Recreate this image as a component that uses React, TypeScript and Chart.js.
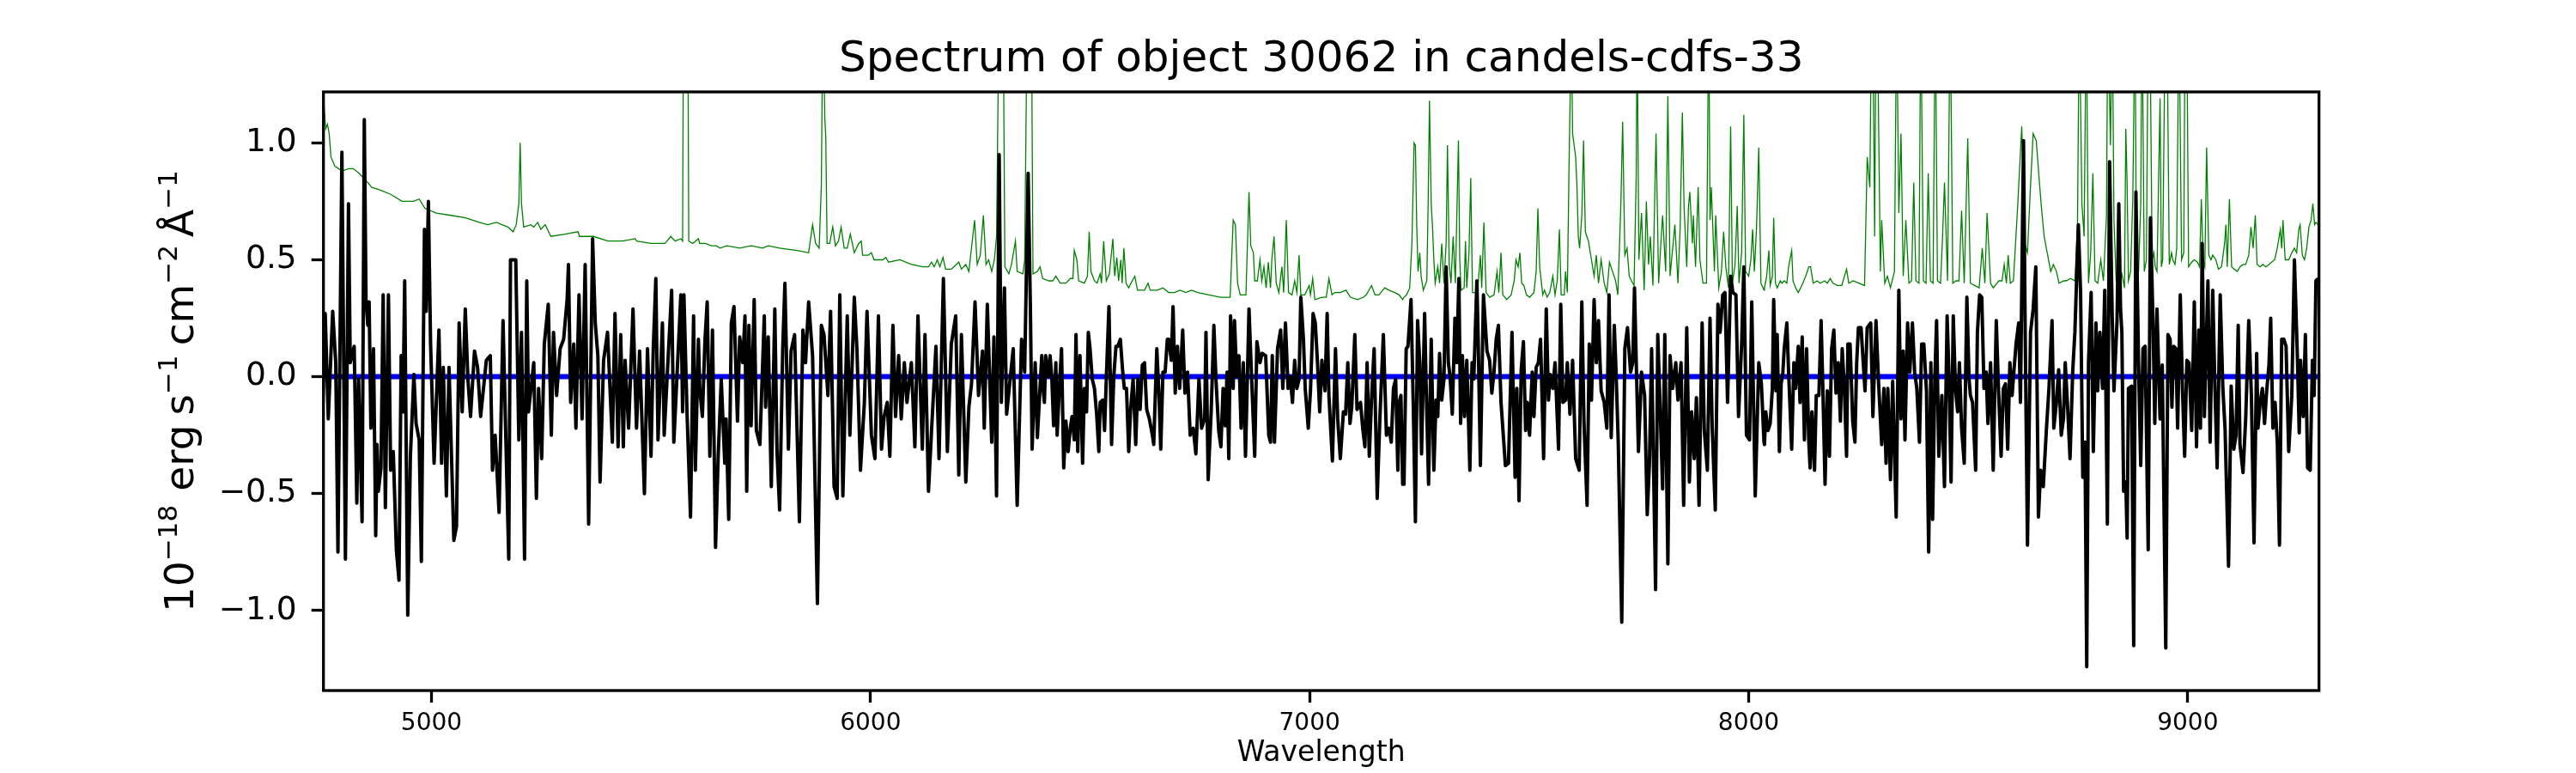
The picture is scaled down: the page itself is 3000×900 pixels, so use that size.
import { useEffect, useRef } from "react";
import { Chart, registerables } from "chart.js";

Chart.register(...registerables);

type Pt = [number, number];

// object flux, [wavelength, 1e-18 erg/s/cm2/A]
const flux4750to5570: Pt[] = [
  [4750, -0.3], [4758, 0.27], [4765, -0.18], [4775, 0.28], [4782, 0.06], [4787, -0.75], [4796, 0.96], [4804, -0.78],
  [4811, 0.74], [4815, 0.06], [4824, 0.13], [4830, -0.54], [4834, -0.01], [4842, -0.62], [4847, 1.1], [4851, 0.32],
  [4855, 0.22], [4858, 0.32], [4862, -0.22], [4868, 0.12], [4873, -0.68], [4876, -0.29], [4879, -0.49], [4885, -0.39],
  [4890, 0.35], [4895, -0.56], [4902, 0.35], [4907, -0.4], [4913, -0.32], [4920, -0.74], [4926, -0.87], [4931, 0.09],
  [4935, -0.15], [4939, 0.41], [4946, -1.02], [4952, -0.34], [4960, 0.01], [4965, -0.2], [4972, -0.27], [4977, -0.79],
  [4984, 0.63], [4988, 0.28], [4993, 0.75], [4998, 0.14], [5006, -0.37], [5017, 0.2], [5023, -0.37], [5027, 0.04],
  [5034, -0.51], [5040, 0.04], [5051, -0.7], [5057, -0.64], [5063, 0.23], [5070, -0.15], [5077, 0.29], [5083, -0.01],
  [5089, -0.17], [5098, 0.11], [5105, 0.04], [5112, -0.17], [5125, 0.07], [5134, 0.09], [5139, -0.4], [5145, -0.25],
  [5154, -0.58], [5163, 0.24], [5176, -0.78], [5180, 0.5], [5192, 0.5], [5199, -0.27], [5205, 0.19], [5212, -0.78],
  [5217, 0.41], [5221, -0.15], [5233, 0.06], [5239, -0.52], [5244, -0.05], [5251, -0.35], [5257, 0.14], [5266, 0.31],
  [5273, -0.25], [5278, 0.19], [5285, -0.08], [5293, 0.12], [5301, 0.16], [5309, 0.33], [5312, 0.48], [5317, -0.11],
  [5324, 0.14], [5329, -0.22], [5336, 0.35], [5343, -0.18], [5350, 0.48], [5358, -0.63], [5367, 0.59], [5373, 0.23],
  [5379, 0.09], [5384, -0.45], [5392, 0.07], [5401, 0.19], [5412, -0.28], [5418, 0.27], [5425, -0.3], [5431, 0.18],
  [5437, -0.3], [5441, 0.07], [5449, -0.22], [5459, 0.29], [5467, -0.22], [5474, 0.11], [5485, -0.5], [5492, 0.12],
  [5500, -0.34], [5505, 0.11], [5511, 0.42], [5516, -0.27], [5526, 0.23], [5530, -0.25], [5547, 0.37], [5552, -0.28],
  [5568, 0.35],
];

const flux5570to6390: Pt[] = [
  [5572, -0.15], [5575, 0.35], [5582, -0.15], [5590, -0.6], [5597, 0.26], [5601, -0.4], [5608, 0.16], [5611, -0.05],
  [5617, -0.17], [5623, 0.16], [5628, 0.32], [5634, -0.34], [5640, 0.2], [5647, -0.73], [5653, -0.34], [5660, -0.01],
  [5668, -0.37], [5671, -0.18], [5677, -0.61], [5683, 0.23], [5689, 0.3], [5697, -0.19], [5702, 0.17], [5709, 0.06],
  [5714, 0.26], [5718, -0.49], [5723, 0.22], [5728, -0.21], [5735, 0.33], [5740, -0.23], [5748, -0.29], [5758, 0.26],
  [5761, -0.13], [5767, 0.17], [5774, -0.47], [5782, 0.29], [5787, -0.32], [5793, -0.57], [5800, 0.12], [5805, 0.4],
  [5813, -0.31], [5819, 0.11], [5827, 0.18], [5838, -0.62], [5846, 0.2], [5852, 0.06], [5859, 0.32], [5868, 0.09],
  [5879, -0.97], [5888, 0.22], [5894, 0.18], [5903, -0.08], [5909, 0.28], [5917, -0.47], [5924, -0.52], [5930, 0.35],
  [5937, -0.51], [5947, 0.26], [5953, -0.25], [5963, 0.34], [5969, 0.12], [5977, -0.4], [5986, -0.11], [5992, 0.28],
  [6002, -0.25], [6010, -0.35], [6018, 0.26], [6025, -0.31], [6031, -0.17], [6038, -0.11], [6044, -0.34], [6051, 0.22],
  [6057, -0.17], [6064, 0.09], [6070, -0.18], [6077, 0.06], [6083, -0.11], [6093, 0.06], [6101, -0.3], [6108, 0.26],
  [6118, -0.31], [6124, 0.18], [6132, -0.49], [6139, -0.23], [6149, 0.13], [6156, -0.35], [6166, 0.42], [6175, -0.32],
  [6184, 0.14], [6194, 0.26], [6201, -0.42], [6207, 0.18], [6217, -0.45], [6224, -0.13], [6230, -0.03], [6238, 0.32],
  [6246, -0.08], [6255, 0.11], [6259, -0.22], [6266, 0.31], [6276, -0.28], [6281, 0.17], [6287, -0.51], [6293, 0.95],
  [6298, -0.11], [6305, 0.38], [6310, -0.16], [6318, -0.01], [6325, 0.12], [6334, -0.55], [6344, 0.16], [6351, 0.02],
  [6359, 0.87], [6364, 0.31], [6368, -0.31], [6375, 0.06], [6380, -0.26], [6390, 0.09],
];

const flux6390to7215: Pt[] = [
  [6393, -0.05], [6396, -0.11], [6399, 0.09], [6404, 0.0], [6409, 0.09], [6413, -0.01], [6417, -0.21], [6422, 0.06],
  [6425, -0.25], [6430, -0.05], [6435, 0.12], [6440, -0.39], [6445, -0.19], [6450, -0.32], [6455, -0.22], [6459, -0.17],
  [6464, -0.27], [6468, 0.18], [6472, -0.32], [6477, 0.09], [6483, -0.37], [6487, -0.05], [6492, -0.15], [6496, 0.19],
  [6500, 0.12], [6505, -0.01], [6510, -0.05], [6515, -0.16], [6520, -0.32], [6523, -0.11], [6529, -0.1], [6533, -0.23],
  [6537, -0.01], [6543, 0.3], [6549, -0.29], [6554, 0.0], [6559, 0.13], [6563, 0.13], [6569, 0.16], [6574, 0.03],
  [6578, -0.05], [6583, -0.05], [6588, -0.32], [6592, -0.15], [6598, -0.01], [6604, -0.29], [6609, -0.01], [6614, -0.14],
  [6619, 0.05], [6624, 0.06], [6629, -0.14], [6635, -0.18], [6642, -0.25], [6645, -0.29], [6652, 0.12], [6657, -0.08],
  [6661, -0.31], [6666, 0.02], [6671, 0.02], [6676, 0.16], [6679, 0.16], [6685, 0.07], [6689, 0.3], [6694, -0.07],
  [6699, 0.13], [6704, -0.05], [6711, 0.2], [6716, -0.07], [6722, 0.02], [6728, -0.25], [6735, -0.22], [6741, -0.33],
  [6748, -0.01], [6754, -0.22], [6761, -0.18], [6764, 0.19], [6769, -0.44], [6776, -0.14], [6782, 0.22], [6787, -0.02],
  [6793, -0.23], [6798, -0.3], [6803, -0.05], [6808, -0.21], [6812, 0.02], [6816, -0.35], [6820, 0.26], [6826, -0.05],
  [6829, 0.24], [6834, 0.0], [6839, 0.09], [6844, -0.22], [6849, 0.06], [6854, -0.34], [6862, 0.29], [6868, -0.01],
  [6875, -0.34], [6880, 0.15], [6887, 0.06], [6892, 0.1], [6900, 0.09], [6907, -0.25], [6911, -0.28], [6915, 0.09],
  [6920, -0.28], [6927, 0.12], [6934, 0.2], [6939, -0.05], [6945, 0.23], [6951, -0.05], [6956, 0.0], [6961, -0.11],
  [6966, 0.07], [6971, -0.05], [6976, -0.01], [6980, 0.34], [6986, 0.16], [6990, -0.05], [6997, -0.22], [7002, -0.06],
  [7008, 0.27], [7013, 0.23], [7018, 0.06], [7023, -0.15], [7028, 0.07], [7035, -0.06], [7040, 0.27], [7044, -0.08],
  [7052, -0.36], [7059, 0.12], [7064, -0.18], [7070, -0.35], [7077, -0.15], [7082, -0.16], [7087, 0.06], [7092, -0.2],
  [7096, -0.13], [7103, 0.18], [7108, -0.14], [7116, -0.11], [7121, -0.22], [7126, -0.3], [7131, 0.06], [7136, -0.34],
  [7141, -0.1], [7147, 0.12], [7154, -0.52], [7160, -0.18], [7168, 0.18], [7175, -0.25], [7181, -0.22], [7186, -0.28],
  [7191, -0.05], [7196, -0.01], [7201, -0.4], [7204, -0.11], [7208, -0.08], [7212, -0.46],
];

const flux7215to8035: Pt[] = [
  [7215, -0.46], [7220, 0.12], [7224, 0.13], [7231, 0.33], [7236, -0.11], [7241, -0.62], [7246, 0.24], [7251, 0.06],
  [7255, -0.33], [7262, 0.27], [7266, -0.08], [7271, -0.46], [7277, 0.16], [7283, -0.4], [7288, -0.1], [7292, -0.17],
  [7296, 0.1], [7301, -0.1], [7306, -0.01], [7311, 0.47], [7316, 0.06], [7320, 0.0], [7325, -0.16], [7331, 0.25],
  [7335, 0.06], [7340, 0.42], [7344, -0.2], [7348, 0.09], [7353, -0.17], [7358, 0.07], [7365, -0.4], [7370, 0.06],
  [7374, -0.01], [7381, 0.41], [7384, 0.16], [7389, -0.38], [7396, 0.35], [7404, 0.11], [7410, 0.07], [7415, -0.07],
  [7420, 0.02], [7425, 0.16], [7430, 0.22], [7436, -0.11], [7446, -0.38], [7453, -0.37], [7461, 0.19], [7468, -0.43],
  [7472, -0.05], [7477, -0.53], [7482, 0.03], [7487, 0.15], [7492, -0.23], [7496, -0.11], [7501, -0.25], [7507, 0.02],
  [7511, -0.17], [7516, 0.04], [7521, 0.06], [7526, 0.16], [7533, -0.35], [7539, 0.29], [7544, -0.1], [7548, 0.01],
  [7554, -0.05], [7559, 0.06], [7567, -0.31], [7572, 0.31], [7577, -0.11], [7583, -0.1], [7587, 0.06], [7593, -0.16],
  [7599, 0.07], [7606, -0.35], [7614, -0.4], [7620, 0.32], [7625, -0.2], [7632, -0.55], [7637, 0.14], [7642, -0.1],
  [7648, 0.33], [7653, 0.06], [7658, 0.24], [7664, -0.06], [7671, -0.11], [7677, -0.22], [7682, 0.35], [7687, -0.26],
  [7694, 0.22], [7698, 0.02], [7703, -0.28], [7711, -1.05], [7718, 0.12], [7724, 0.21], [7731, 0.02], [7736, 0.06],
  [7740, 0.38], [7744, 0.06], [7749, -0.32], [7756, 0.02], [7763, -0.08], [7769, -0.59], [7774, -0.37], [7779, 0.12],
  [7788, -0.91], [7793, 0.18], [7798, -0.11], [7804, -0.48], [7809, 0.18], [7816, -0.8], [7821, 0.09], [7827, -0.05],
  [7834, 0.06], [7839, -0.1], [7846, 0.06], [7852, -0.55], [7859, 0.21], [7865, -0.45], [7870, -0.15], [7876, -0.35],
  [7881, -0.09], [7887, -0.55], [7894, 0.23], [7899, -0.23], [7906, -0.4], [7912, 0.25], [7917, -0.22], [7924, -0.57],
  [7930, 0.31], [7935, 0.19], [7941, 0.35], [7946, 0.36], [7952, -0.11], [7959, 0.43], [7964, 0.36], [7971, 0.35],
  [7977, -0.17], [7984, 0.14], [7989, 0.47], [7995, -0.25], [8002, -0.27], [8007, 0.32], [8015, -0.51], [8023, 0.06],
  [8029, -0.03], [8035, -0.28],
];

const flux8035to8855: Pt[] = [
  [8036, -0.29], [8039, -0.15], [8044, -0.23], [8049, -0.2], [8054, -0.05], [8057, 0.33], [8062, -0.06], [8065, 0.18],
  [8070, -0.32], [8074, -0.03], [8078, 0.02], [8081, 0.12], [8087, 0.23], [8091, 0.02], [8098, -0.31], [8103, 0.06],
  [8107, -0.05], [8113, 0.13], [8117, -0.11], [8122, 0.17], [8127, -0.27], [8132, 0.12], [8137, -0.28], [8140, -0.39],
  [8144, -0.15], [8150, -0.4], [8154, -0.08], [8160, -0.08], [8165, 0.24], [8169, -0.05], [8174, -0.46], [8179, -0.06],
  [8184, -0.34], [8189, 0.12], [8194, 0.2], [8199, -0.07], [8204, 0.06], [8209, -0.19], [8213, 0.12], [8218, -0.05],
  [8223, -0.34], [8226, 0.14], [8231, 0.14], [8237, -0.19], [8242, -0.28], [8246, 0.06], [8250, 0.21], [8256, 0.21],
  [8261, 0.06], [8265, -0.06], [8270, 0.21], [8278, 0.23], [8283, -0.17], [8290, 0.24], [8296, -0.03], [8303, -0.29],
  [8308, -0.05], [8313, -0.37], [8317, -0.05], [8323, -0.44], [8328, -0.02], [8336, -0.6], [8342, 0.37], [8347, -0.18],
  [8352, 0.11], [8356, -0.27], [8362, 0.23], [8367, 0.02], [8373, 0.23], [8378, 0.02], [8383, -0.05], [8389, -0.28],
  [8394, 0.14], [8399, 0.14], [8405, -0.06], [8410, -0.75], [8415, 0.06], [8419, -0.61], [8424, -0.01], [8428, 0.24],
  [8433, -0.34], [8440, -0.08], [8446, -0.47], [8452, 0.26], [8456, 0.02], [8461, -0.45], [8466, 0.26], [8471, -0.05],
  [8476, -0.15], [8480, 0.06], [8485, -0.22], [8491, -0.37], [8497, 0.34], [8502, -0.01], [8505, -0.08], [8510, -0.11],
  [8517, -0.4], [8521, 0.19], [8526, 0.35], [8531, 0.34], [8536, -0.05], [8541, 0.02], [8545, -0.2], [8551, 0.06],
  [8557, -0.4], [8564, 0.24], [8569, -0.05], [8575, -0.34], [8580, -0.05], [8585, -0.03], [8590, -0.31], [8595, 0.06],
  [8600, -0.08], [8604, 0.02], [8609, 0.14], [8615, 0.23], [8619, -0.11], [8626, 1.01], [8630, 0.16], [8635, -0.72],
  [8642, 0.19], [8648, 0.29], [8654, 0.47], [8660, -0.6], [8665, -0.4], [8671, -0.47], [8678, -0.23], [8684, -0.05],
  [8691, 0.24], [8695, -0.22], [8701, -0.11], [8706, 0.03], [8712, -0.25], [8717, -0.18], [8721, 0.06], [8727, -0.15],
  [8732, -0.35], [8738, 0.02], [8743, 0.19], [8751, 0.65], [8756, 0.36], [8761, -0.43], [8766, -0.28], [8770, -1.24],
  [8774, 0.06], [8780, 0.36], [8785, -0.32], [8791, 0.23], [8795, -0.06], [8800, 0.19], [8806, -0.05], [8811, 0.37],
  [8817, -0.63], [8822, 0.92], [8828, 0.26], [8832, -0.06], [8839, 0.24], [8843, 0.74], [8847, 0.29], [8850, 0.19],
  [8854, -0.49],
];

const flux8855to9300: Pt[] = [
  [8859, -0.45], [8862, -0.69], [8865, -0.05], [8872, -0.04], [8877, -1.15], [8882, 0.79], [8888, 0.06], [8893, -0.38],
  [8898, 0.12], [8903, 0.13], [8910, -0.74], [8915, 0.68], [8921, 0.23], [8925, -0.2], [8930, 0.29], [8937, -0.18],
  [8942, 0.05], [8950, -1.16], [8955, 0.18], [8960, 0.16], [8964, -0.13], [8968, 0.13], [8973, 0.12], [8977, -0.22],
  [8983, 0.35], [8988, -0.05], [8993, -0.34], [8998, 0.07], [9003, 0.06], [9009, -0.23], [9015, 0.32], [9020, -0.3],
  [9025, 0.2], [9029, -0.22], [9033, 0.57], [9038, -0.17], [9046, 0.41], [9051, -0.28], [9057, 0.37], [9062, -0.05],
  [9067, -0.39], [9074, 0.35], [9080, -0.05], [9085, -0.22], [9093, -0.81], [9099, -0.04], [9105, -0.31], [9110, -0.25],
  [9115, 0.22], [9119, -0.29], [9126, -0.41], [9132, -0.18], [9139, 0.24], [9145, -0.08], [9151, -0.71], [9157, 0.1],
  [9160, -0.22], [9165, -0.11], [9170, -0.05], [9175, -0.2], [9179, -0.08], [9185, 0.05], [9189, 0.25], [9194, -0.22],
  [9199, -0.11], [9204, -0.28], [9209, -0.72], [9214, 0.16], [9219, 0.16], [9224, 0.13], [9230, -0.32], [9237, -0.08],
  [9243, 0.5], [9250, 0.07], [9254, -0.24], [9257, 0.07], [9263, -0.17], [9268, 0.18], [9273, -0.39], [9279, -0.4],
  [9284, 0.07], [9288, -0.08], [9292, 0.41], [9297, 0.42],
];

// sky / error spectrum (green), same units
const sky4750to5570: Pt[] = [
  [4752, 1.25], [4759, 1.06], [4763, 1.08], [4767, 1.04], [4771, 0.94], [4780, 0.9], [4796, 0.88], [4812, 0.89],
  [4822, 0.89], [4835, 0.87], [4855, 0.83], [4864, 0.81], [4881, 0.8], [4907, 0.78], [4933, 0.75], [4959, 0.75],
  [4972, 0.76], [4985, 0.72], [5011, 0.7], [5044, 0.69], [5076, 0.68], [5109, 0.66], [5128, 0.65], [5148, 0.66],
  [5174, 0.64], [5186, 0.62], [5193, 0.65], [5199, 0.74], [5202, 1.0], [5205, 0.74], [5210, 0.64], [5226, 0.65],
  [5233, 0.64], [5242, 0.66], [5249, 0.63], [5259, 0.65], [5272, 0.6], [5304, 0.61], [5334, 0.62], [5337, 0.6],
  [5369, 0.6], [5402, 0.58], [5435, 0.58], [5464, 0.59], [5467, 0.58], [5500, 0.57], [5532, 0.57], [5545, 0.6],
  [5555, 0.58], [5568, 0.59],
];

const sky5570to6390: Pt[] = [
  [5572, 0.58], [5574, 1.6], [5578, 1.8], [5584, 1.5], [5586, 0.58], [5595, 0.57], [5608, 0.59], [5611, 0.57],
  [5624, 0.57], [5637, 0.56], [5649, 0.56], [5657, 0.55], [5673, 0.56], [5702, 0.55], [5728, 0.56], [5754, 0.55],
  [5767, 0.56], [5793, 0.55], [5833, 0.54], [5859, 0.53], [5868, 0.65], [5875, 0.57], [5883, 0.55], [5888, 0.82],
  [5891, 1.5], [5893, 1.4], [5896, 1.1], [5898, 1.03], [5901, 0.57], [5907, 0.57], [5914, 0.64], [5920, 0.56],
  [5927, 0.58], [5933, 0.64], [5940, 0.55], [5947, 0.55], [5954, 0.61], [5963, 0.53], [5973, 0.57], [5979, 0.58],
  [5982, 0.52], [5995, 0.52], [6002, 0.53], [6008, 0.5], [6028, 0.5], [6035, 0.51], [6041, 0.49], [6067, 0.5],
  [6093, 0.48], [6119, 0.47], [6132, 0.47], [6139, 0.49], [6145, 0.47], [6152, 0.5], [6158, 0.47], [6165, 0.51],
  [6171, 0.46], [6184, 0.46], [6201, 0.49], [6207, 0.46], [6217, 0.48], [6224, 0.45], [6237, 0.67], [6243, 0.48],
  [6250, 0.52], [6257, 0.69], [6263, 0.48], [6269, 0.5], [6276, 0.45], [6282, 0.5], [6287, 0.6], [6294, 1.8],
  [6296, 2.0], [6302, 1.6], [6306, 0.47], [6315, 0.44], [6321, 0.48], [6330, 0.58], [6334, 0.45], [6347, 0.44],
  [6351, 0.5], [6357, 1.6], [6362, 1.7], [6367, 1.4], [6370, 0.44], [6380, 0.45], [6386, 0.47], [6392, 0.42],
];

const sky6390to7215: Pt[] = [
  [6393, 0.42], [6406, 0.41], [6415, 0.41], [6422, 0.43], [6432, 0.4], [6445, 0.4], [6455, 0.42], [6461, 0.42],
  [6464, 0.54], [6470, 0.5], [6474, 0.41], [6487, 0.4], [6494, 0.43], [6498, 0.62], [6502, 0.45], [6510, 0.41],
  [6516, 0.4], [6523, 0.44], [6526, 0.4], [6531, 0.58], [6537, 0.41], [6544, 0.44], [6552, 0.59], [6556, 0.43],
  [6561, 0.51], [6565, 0.41], [6570, 0.5], [6573, 0.4], [6577, 0.55], [6582, 0.4], [6588, 0.38], [6596, 0.41],
  [6602, 0.43], [6608, 0.37], [6624, 0.37], [6632, 0.4], [6637, 0.37], [6653, 0.37], [6666, 0.38], [6679, 0.36],
  [6692, 0.36], [6705, 0.37], [6718, 0.36], [6731, 0.37], [6745, 0.36], [6771, 0.35], [6797, 0.34], [6819, 0.34],
  [6826, 0.67], [6831, 0.65], [6836, 0.4], [6842, 0.35], [6855, 0.35], [6862, 0.79], [6866, 0.56], [6872, 0.53],
  [6875, 0.41], [6881, 0.41], [6887, 0.5], [6891, 0.41], [6896, 0.47], [6901, 0.38], [6906, 0.49], [6911, 0.38],
  [6914, 0.5], [6919, 0.6], [6924, 0.4], [6930, 0.36], [6937, 0.47], [6941, 0.36], [6947, 0.67], [6952, 0.36],
  [6960, 0.35], [6966, 0.41], [6971, 0.36], [6976, 0.52], [6980, 0.35], [6989, 0.35], [6999, 0.39], [7002, 0.35],
  [7007, 0.42], [7012, 0.33], [7028, 0.34], [7038, 0.34], [7044, 0.42], [7051, 0.35], [7057, 0.36], [7070, 0.36],
  [7083, 0.37], [7093, 0.34], [7109, 0.33], [7123, 0.34], [7129, 0.35], [7141, 0.39], [7149, 0.35], [7158, 0.35],
  [7171, 0.38], [7181, 0.37], [7194, 0.36], [7204, 0.35], [7212, 0.33],
];

const sky7215to8035: Pt[] = [
  [7215, 0.34], [7221, 0.35], [7228, 0.38], [7233, 0.57], [7238, 1.0], [7241, 0.99], [7244, 0.65], [7247, 0.45],
  [7251, 0.53], [7254, 0.43], [7259, 0.37], [7267, 0.41], [7270, 0.74], [7273, 1.18], [7277, 0.74], [7280, 0.64],
  [7283, 0.5], [7286, 0.4], [7292, 0.47], [7296, 0.4], [7301, 0.57], [7306, 0.4], [7311, 0.57], [7314, 0.99],
  [7318, 0.48], [7322, 0.4], [7327, 0.6], [7332, 0.4], [7339, 1.01], [7342, 0.5], [7345, 0.37], [7352, 0.38],
  [7355, 0.58], [7358, 0.38], [7363, 0.53], [7367, 0.85], [7371, 0.36], [7378, 0.36], [7384, 0.4], [7389, 0.52],
  [7392, 0.38], [7397, 0.66], [7402, 0.36], [7410, 0.34], [7420, 0.35], [7427, 0.45], [7431, 0.36], [7436, 0.53],
  [7440, 0.35], [7449, 0.33], [7459, 0.35], [7466, 0.41], [7470, 0.5], [7475, 0.47], [7479, 0.53], [7483, 0.4],
  [7488, 0.39], [7494, 0.35], [7501, 0.34], [7511, 0.36], [7516, 0.45], [7520, 0.72], [7524, 0.47], [7531, 0.35],
  [7535, 0.37], [7541, 0.34], [7547, 0.36], [7554, 0.43], [7559, 0.35], [7564, 0.41], [7569, 0.63], [7573, 0.35],
  [7580, 0.35], [7583, 0.45], [7587, 0.36], [7591, 0.91], [7596, 1.5], [7599, 1.04], [7606, 0.94], [7609, 0.81],
  [7612, 0.6], [7615, 0.55], [7620, 0.69], [7624, 1.01], [7628, 0.62], [7635, 0.58], [7642, 0.5], [7648, 0.43],
  [7653, 0.52], [7658, 0.4], [7664, 0.5], [7671, 0.4], [7677, 0.36], [7683, 0.49], [7690, 0.45], [7697, 0.41],
  [7702, 0.35], [7709, 0.74], [7713, 1.09], [7718, 0.52], [7723, 0.55], [7728, 0.43], [7733, 0.41], [7739, 0.39],
  [7744, 0.87], [7746, 1.5], [7750, 0.5], [7756, 0.7], [7762, 0.37], [7767, 0.75], [7772, 0.48], [7776, 0.6],
  [7782, 0.39], [7789, 1.04], [7795, 0.4], [7800, 0.57], [7804, 0.69], [7811, 0.45], [7816, 1.2], [7821, 0.43],
  [7827, 0.55], [7832, 0.65], [7839, 0.4], [7844, 0.64], [7849, 1.13], [7853, 0.72], [7859, 0.47], [7863, 0.73],
  [7866, 0.79], [7872, 0.57], [7874, 0.69], [7879, 0.47], [7885, 0.81], [7889, 0.5], [7896, 0.4], [7904, 0.4],
  [7909, 1.6], [7912, 0.67], [7915, 0.81], [7922, 0.45], [7925, 0.69], [7932, 0.38], [7938, 0.45], [7943, 0.62],
  [7948, 0.47], [7954, 0.38], [7959, 1.07], [7963, 0.4], [7969, 0.48], [7974, 0.73], [7978, 0.4], [7984, 0.53],
  [7989, 1.12], [7993, 0.45], [8000, 0.43], [8005, 0.5], [8009, 0.63], [8013, 0.45], [8018, 0.64], [8023, 0.98],
  [8028, 0.4], [8035, 0.37],
];

const sky8035to8855: Pt[] = [
  [8036, 0.38], [8041, 0.43], [8046, 0.54], [8049, 0.39], [8054, 0.43], [8057, 0.68], [8061, 0.4], [8065, 0.38],
  [8072, 0.41], [8076, 0.4], [8081, 0.41], [8087, 0.4], [8091, 0.47], [8098, 0.54], [8101, 0.41], [8107, 0.38],
  [8113, 0.36], [8121, 0.39], [8130, 0.43], [8137, 0.47], [8141, 0.47], [8147, 0.4], [8156, 0.41], [8163, 0.4],
  [8173, 0.41], [8179, 0.4], [8186, 0.42], [8192, 0.4], [8202, 0.39], [8212, 0.39], [8223, 0.46], [8228, 0.4],
  [8238, 0.41], [8251, 0.4], [8264, 0.39], [8270, 0.94], [8276, 0.81], [8280, 1.6], [8283, 1.5], [8287, 0.6],
  [8290, 1.6], [8294, 1.4], [8300, 0.45], [8303, 0.67], [8310, 0.4], [8316, 0.43], [8323, 0.38], [8332, 0.45],
  [8337, 1.6], [8342, 0.7], [8347, 1.04], [8352, 0.43], [8358, 0.67], [8365, 0.4], [8371, 0.41], [8376, 0.83],
  [8381, 0.41], [8388, 0.4], [8392, 1.6], [8398, 0.41], [8404, 0.4], [8409, 0.87], [8414, 0.41], [8420, 0.4],
  [8425, 1.6], [8430, 0.41], [8437, 0.4], [8441, 0.57], [8446, 0.83], [8453, 0.41], [8459, 1.6], [8465, 0.4],
  [8472, 0.41], [8479, 0.41], [8485, 0.71], [8491, 0.4], [8499, 1.02], [8505, 0.4], [8515, 0.39], [8525, 0.38],
  [8532, 0.55], [8538, 0.4], [8543, 0.7], [8551, 0.4], [8557, 0.38], [8570, 0.41], [8577, 0.41], [8582, 0.48],
  [8587, 0.4], [8591, 0.52], [8596, 0.4], [8603, 0.41], [8613, 0.74], [8622, 1.07], [8629, 0.57], [8635, 0.53],
  [8642, 0.82], [8648, 1.04], [8655, 1.01], [8661, 0.86], [8667, 0.72], [8673, 0.6], [8681, 0.52], [8688, 0.45],
  [8694, 0.48], [8701, 0.45], [8707, 0.4], [8717, 0.41], [8723, 0.41], [8733, 0.42], [8743, 0.41], [8749, 0.65],
  [8753, 1.6], [8759, 0.74], [8764, 0.6], [8769, 1.6], [8774, 0.4], [8779, 0.53], [8784, 0.87], [8789, 0.41],
  [8795, 0.4], [8802, 0.5], [8808, 0.41], [8815, 0.69], [8818, 1.6], [8824, 0.99], [8828, 1.6], [8832, 0.67],
  [8837, 0.41], [8844, 0.4], [8850, 0.44], [8856, 0.38],
];

const sky8855to9300: Pt[] = [
  [8859, 1.06], [8862, 0.82], [8865, 0.41], [8870, 0.45], [8875, 0.77], [8880, 1.6], [8883, 0.53], [8888, 0.45],
  [8893, 0.74], [8896, 1.6], [8901, 0.45], [8906, 0.5], [8910, 1.6], [8914, 1.5], [8919, 0.5], [8923, 0.53],
  [8926, 0.47], [8930, 0.45], [8937, 1.19], [8940, 0.47], [8943, 0.5], [8949, 1.6], [8953, 1.5], [8958, 0.48],
  [8963, 0.53], [8966, 0.5], [8971, 0.48], [8975, 0.55], [8980, 1.6], [8986, 0.5], [8991, 0.53], [8994, 1.6],
  [8998, 1.5], [9002, 0.47], [9009, 0.49], [9015, 0.5], [9022, 0.49], [9027, 0.47], [9031, 0.76], [9035, 0.5],
  [9039, 0.47], [9043, 0.98], [9048, 0.52], [9053, 0.5], [9057, 0.52], [9064, 0.5], [9070, 0.46], [9077, 0.47],
  [9084, 0.57], [9087, 0.65], [9090, 0.47], [9095, 0.76], [9100, 0.47], [9106, 0.46], [9113, 0.45], [9119, 0.47],
  [9126, 0.48], [9132, 0.48], [9139, 0.52], [9144, 0.64], [9149, 0.55], [9154, 0.69], [9158, 0.48], [9165, 0.47],
  [9171, 0.48], [9178, 0.47], [9185, 0.48], [9191, 0.49], [9198, 0.5], [9204, 0.55], [9211, 0.63], [9214, 0.55],
  [9217, 0.67], [9222, 0.5], [9230, 0.5], [9237, 0.53], [9243, 0.55], [9248, 0.53], [9253, 0.63], [9256, 0.65],
  [9261, 0.52], [9266, 0.5], [9271, 0.55], [9276, 0.64], [9281, 0.67], [9285, 0.74], [9289, 0.65], [9292, 0.66],
  [9297, 0.65],
];

const zeroLevel: Pt[] = [[4754, 0], [9299, 0]];

const waveLimits = [4754, 9299];
const fluxLimits = [-1.342, 1.218];
const waveTicks = [5000, 6000, 7000, 8000, 9000];
const fluxTicks = [-1.0, -0.5, 0.0, 0.5, 1.0];

const titleText = "Spectrum of object 30062 in candels-cdfs-33";
const xLabel = "Wavelength";
// [text, superscript?, gap after in px]
const yLabelParts: [string, boolean, number][] = [
  ["10", false, 0], ["\u221218", true, 16], ["erg", false, 11], ["s", false, 0], ["\u22121", true, 11],
  ["cm", false, 0], ["\u22122", true, 9], ["\u00c5", false, 0], ["\u22121", true, 0],
];

const FONT = "'DejaVu Sans', sans-serif";

const toXY = (pts: Pt[]) => pts.map(([x, y]) => ({ x, y }));

const decorations = {
  id: "decorations",
  afterDatasetsDraw(chart: Chart) {
    const { ctx, chartArea: a } = chart;
    ctx.save();
    ctx.strokeStyle = "#000";
    ctx.lineWidth = 3.3;
    ctx.strokeRect(a.left, a.top, a.right - a.left, a.bottom - a.top);
    ctx.restore();
  },
  afterDraw(chart: Chart) {
    const { ctx, chartArea: a } = chart;
    const cx = (a.left + a.right) / 2;
    const cy = (a.top + a.bottom) / 2;
    ctx.save();
    ctx.fillStyle = "#000";
    ctx.textAlign = "center";
    ctx.textBaseline = "alphabetic";
    ctx.font = `50px ${FONT}`;
    ctx.fillText(titleText, cx, a.top - 24);
    ctx.font = `33px ${FONT}`;
    ctx.fillText(xLabel, cx, 886);

    // rotated y label with superscripts
    ctx.translate(225, cy);
    ctx.rotate(-Math.PI / 2);
    ctx.textAlign = "left";
    const widths = yLabelParts.map(([t, sup, gap]) => {
      ctx.font = `${sup ? 31 : 47}px ${FONT}`;
      return ctx.measureText(t).width + gap;
    });
    let x = -widths.reduce((s, w) => s + w, 0) / 2;
    yLabelParts.forEach(([t, sup], i) => {
      ctx.font = `${sup ? 31 : 47}px ${FONT}`;
      ctx.fillText(t, x, sup ? -19 : 0);
      x += widths[i];
    });
    ctx.restore();
  },
};

export default function App() {
  const canvasRef = useRef<HTMLCanvasElement | null>(null);

  useEffect(() => {
    if (!canvasRef.current) return;
    const flux = [
      ...flux4750to5570, ...flux5570to6390, ...flux6390to7215,
      ...flux7215to8035, ...flux8035to8855, ...flux8855to9300,
    ];
    const sky = [
      ...sky4750to5570, ...sky5570to6390, ...sky6390to7215,
      ...sky7215to8035, ...sky8035to8855, ...sky8855to9300,
    ];
    const tickGrid = {
      display: true,
      drawOnChartArea: false,
      drawTicks: true,
      tickLength: 14,
      tickWidth: 3.3,
      tickColor: "#000",
    };

    const chart = new Chart(canvasRef.current, {
      type: "line",
      data: {
        datasets: [
          {
            label: "flux",
            data: toXY(flux),
            borderColor: "#000000",
            borderWidth: 4,
            borderJoinStyle: "round",
            pointRadius: 0,
            tension: 0,
          },
          {
            label: "sky",
            data: toXY(sky),
            borderColor: "#008000",
            borderWidth: 1.3,
            pointRadius: 0,
            tension: 0,
          },
          {
            label: "zero",
            data: toXY(zeroLevel),
            borderColor: "#0000ff",
            borderWidth: 6,
            pointRadius: 0,
          },
        ],
      },
      options: {
        animation: false,
        responsive: false,
        devicePixelRatio: 1,
        events: [],
        layout: { padding: { left: 0, top: 107, right: 299.3, bottom: 0 } },
        plugins: {
          legend: { display: false },
          tooltip: { enabled: false },
        },
        scales: {
          x: {
            type: "linear",
            min: waveLimits[0],
            max: waveLimits[1],
            afterFit: (s: any) => { s.height = 96; },
            afterBuildTicks: (s: any) => { s.ticks = waveTicks.map((value) => ({ value })); },
            border: { display: false },
            grid: tickGrid,
            ticks: {
              color: "#000",
              font: { family: FONT, size: 28 },
              padding: 8,
              maxRotation: 0,
              autoSkip: false,
              callback: (v: any) => String(v),
            },
          },
          y: {
            type: "linear",
            min: fluxLimits[0],
            max: fluxLimits[1],
            afterFit: (s: any) => { s.width = 376.7; },
            afterBuildTicks: (s: any) => { s.ticks = fluxTicks.map((value) => ({ value })); },
            border: { display: false },
            grid: tickGrid,
            ticks: {
              color: "#000",
              font: { family: FONT, size: 37.5 },
              padding: 17,
              autoSkip: false,
              callback: (v: any) => (v < 0 ? "\u2212" : "") + Math.abs(Number(v)).toFixed(1),
            },
          },
        },
      },
      plugins: [decorations],
    });

    return () => {
      chart.destroy();
    };
  }, []);

  return (
    <div style={{ position: "absolute", left: 0, top: 0, width: 3000, height: 900, background: "#fff" }}>
      <canvas ref={canvasRef} width={3000} height={900} />
    </div>
  );
}
